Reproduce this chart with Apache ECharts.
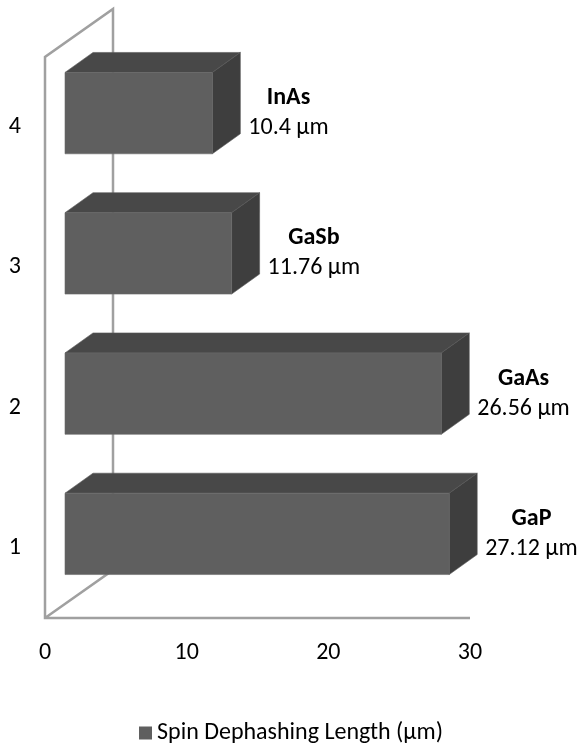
<!DOCTYPE html>
<html>
<head>
<meta charset="utf-8">
<script src="https://cdn.jsdelivr.net/npm/echarts@6/dist/echarts.min.js"></script>
<style>
  html, body { margin: 0; padding: 0; background: #ffffff; }
  #chart { width: 582px; height: 748px; }
</style>
</head>
<body>
<div id="chart"></div>
<script>
// Spin dephashing length per semiconductor
const categories = ['1', '2', '3', '4'];
const materials = ['GaP', 'GaAs', 'GaSb', 'InAs'];
const dephasingLength = [27.12, 26.56, 11.76, 10.4];
const xTicks = [0, 10, 20, 30];
const seriesName = 'Spin Dephashing Length (µm)';

const FONT = 'Carlito, Calibri, Lato, sans-serif';
const FONT_SIZE = 24;
// Pseudo-3D geometry (pixels)
const WALL_DEPTH = [68, -48];
const BAR_OFFSET = [20, -14];
const BAR_DEPTH = [28, -20];
const FRONT = '#5f5f5f', TOP = '#484848', SIDE = '#3e3e3e', WALL = '#a0a0a0';

const chart = echarts.init(document.getElementById('chart'), null, { renderer: 'canvas' });

// Side wall and floor edge of the 3D frame
function renderWall(params, api) {
  const cs = params.coordSys;
  const x0 = cs.x, y0 = cs.y, x1 = cs.x + cs.width, y1 = cs.y + cs.height;
  const bx = x0 + WALL_DEPTH[0], dy = WALL_DEPTH[1];
  return {
    type: 'polyline',
    silent: true,
    shape: { points: [[x1, y1], [x0, y1], [x0, y0], [bx, y0 + dy], [bx, y1 + dy], [x0, y1]] },
    style: { stroke: WALL, lineWidth: 2.5, fill: null, lineJoin: 'miter' }
  };
}

// Box-shaped bar with front, top and side faces plus a two-line label
function renderBar(params, api) {
  const v = api.value(0);
  const ci = api.value(1);
  const base = api.coord([0, ci]);
  const end = api.coord([v, ci]);
  const h = api.size([0, 1])[1] * 0.58;
  const xl = base[0] + BAR_OFFSET[0];
  const xr = end[0] + BAR_OFFSET[0];
  const yc = base[1] + BAR_OFFSET[1];
  const yt = yc - h / 2, yb = yc + h / 2;
  const dx = BAR_DEPTH[0], dy = BAR_DEPTH[1];
  const idx = params.dataIndex;
  return {
    type: 'group',
    children: [
      { type: 'polygon', shape: { points: [[xl, yt], [xl + dx, yt + dy], [xr + dx, yt + dy], [xr, yt]] },
        style: { fill: TOP, stroke: '#5a5a5a', lineWidth: 0.6 } },
      { type: 'polygon', shape: { points: [[xr, yt], [xr + dx, yt + dy], [xr + dx, yb + dy], [xr, yb]] },
        style: { fill: SIDE, stroke: '#555555', lineWidth: 0.6 } },
      { type: 'rect', shape: { x: xl, y: yt, width: xr - xl, height: h },
        style: { fill: FRONT, stroke: '#6a6a6a', lineWidth: 0.6 } },
      { type: 'text',
        style: {
          x: xr + dx + 8, y: yc,
          text: '{n|' + materials[idx] + '}\n{v|' + dephasingLength[idx] + ' µm}',
          align: 'left', verticalAlign: 'middle',
          fill: '#000000',
          rich: {
            n: { fontFamily: FONT, fontSize: FONT_SIZE, fontWeight: 'bold', lineHeight: 30, align: 'center', fill: '#000' },
            v: { fontFamily: FONT, fontSize: FONT_SIZE, lineHeight: 30, align: 'center', fill: '#000' }
          }
        } }
    ]
  };
}

const option = {
  animation: false,
  backgroundColor: '#ffffff',
  textStyle: { fontFamily: FONT },
  grid: { left: 45, top: 57, width: 425, height: 561, containLabel: false },
  xAxis: {
    type: 'value', min: xTicks[0], max: xTicks[xTicks.length - 1], interval: 10,
    axisLine: { show: false }, axisTick: { show: false }, splitLine: { show: false },
    axisLabel: { fontFamily: FONT, fontSize: FONT_SIZE, color: '#000', margin: 23 }
  },
  yAxis: {
    type: 'category', data: categories,
    axisLine: { show: false }, axisTick: { show: false }, splitLine: { show: false },
    axisLabel: { fontFamily: FONT, fontSize: FONT_SIZE, color: '#000', margin: 24 }
  },
  legend: {
    data: [seriesName], left: 'center', top: 716,
    icon: 'rect', itemWidth: 13, itemHeight: 13, itemGap: 6,
    textStyle: { fontFamily: FONT, fontSize: FONT_SIZE, color: '#000' }
  },
  series: [
    {
      name: 'wall', type: 'custom', renderItem: renderWall, silent: true, z: 1,
      data: [[0, 0]], encode: { x: 0, y: 1 }
    },
    {
      name: seriesName, type: 'custom', renderItem: renderBar, z: 2, clip: false,
      itemStyle: { color: FRONT },
      data: dephasingLength.map((v, i) => [v, i]),
      encode: { x: 0, y: 1 }
    }
  ]
};
chart.setOption(option);
</script>
</body>
</html>
